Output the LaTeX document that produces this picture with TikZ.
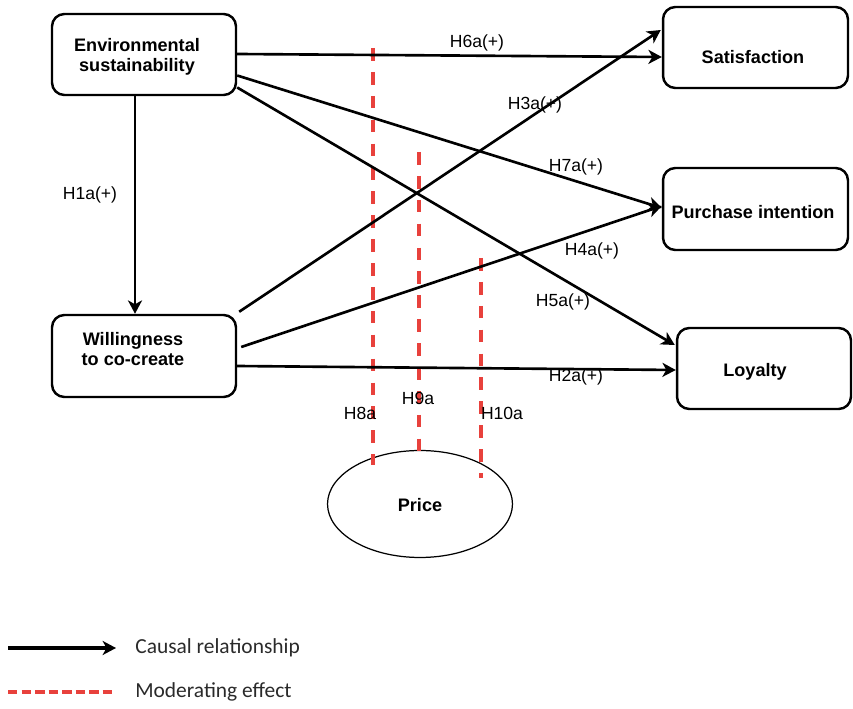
\documentclass[tikz,border=0pt]{standalone}
\usepackage{fontspec}
\setmainfont{Liberation Sans}
\newfontfamily\legendfont{Carlito}
\usetikzlibrary{arrows.meta,calc,shapes.geometric}

\definecolor{modred}{HTML}{E8413C}
\definecolor{legendgray}{HTML}{2A2A2A}

\tikzset{
  box/.style={draw, rounded corners=7pt, line width=1.4pt, inner sep=0pt},
  boxtext/.style={font=\fontsize{10.3}{11.6}\selectfont\bfseries, align=center, inner sep=0pt},
  tip/.style={-{Stealth[length=7.6pt,width=8pt,inset=2.2pt]}},
  causal/.style={line width=1.5pt, tip},
  hyp/.style={font=\fontsize{10}{12}\selectfont, inner sep=0pt},
  moderate/.style={draw=modred, line width=2.3pt, dash pattern=on 7.2pt off 6.4pt},
  legendtext/.style={font=\legendfont\fontsize{12.2}{14}\selectfont, text=legendgray, anchor=west, inner sep=0pt}
}

\begin{document}
\begin{tikzpicture}[x=0.02cm,y=-0.02cm]
  \useasboundingbox (0,0) rectangle (853,709);

  % construct boxes
  \node[box, minimum width=3.68cm, minimum height=1.62cm] (env) at (144,54.5) {};
  \node[box, minimum width=3.68cm, minimum height=1.64cm] (will) at (144,356) {};
  \node[box, minimum width=3.70cm, minimum height=1.62cm] (sat) at (755.5,47.5) {};
  \node[box, minimum width=3.70cm, minimum height=1.64cm] (pi) at (755.5,209) {};
  \node[box, minimum width=3.48cm, minimum height=1.62cm] (loy) at (764,368.5) {};
  \node[draw, ellipse, line width=0.7pt, minimum width=3.70cm, minimum height=2.14cm, inner sep=0pt] (price) at (420,504) {};

  % box captions
  \node[boxtext] (envtext) at (137,57) {Environmental\\sustainability};
  \node[boxtext] (willtext) at (133,349) {Willingness\\to co-create};
  \node[boxtext] (sattext) at (753,57) {Satisfaction};
  \node[boxtext] (pitext) at (753,212) {Purchase intention};
  \node[boxtext] (loytext) at (755,372) {Loyalty};
  \node[boxtext] (pricetext) at (420,505) {Price};

  % moderating effects of price
  \coordinate (m8top) at (373,48);
  \coordinate (m8bot) at (373,465);
  \coordinate (m9top) at (419,152);
  \coordinate (m9bot) at (419,457);
  \coordinate (m10top) at (481,258);
  \coordinate (m10bot) at (481,478);
  \draw[moderate] (m8top) -- (m8bot);
  \draw[moderate] (m9top) -- (m9bot);
  \draw[moderate] (m10top) -- (m10bot);

  % causal paths
  \draw[causal] ($(env.south)+(-9,0)$) -- ($(will.north)+(-9,0)$);
  \draw[causal] ($(env.east)+(0,-0.5)$) -- ($(sat.west)+(0,9.5)$);
  \draw[causal] ($(env.east)+(0,21)$) -- ($(pi.west)+(0,-1)$);
  \draw[causal] ($(env.east)+(0,33)$) -- ($(loy.west)+(-1,-23.5)$);
  \draw[causal] ($(will.north east)+(2,-2)$) -- ($(sat.west)+(-1,-17.5)$);
  \draw[causal] ($(will.east)+(4,-9)$) -- ($(pi.west)+(0,-3)$);
  \draw[causal] ($(will.east)+(0,10)$) -- ($(loy.west)+(0,1.5)$);

  % hypothesis labels
  \node[hyp] (h1) at (90,195) {H1a(+)};
  \node[hyp] (h6) at (477,43) {H6a(+)};
  \node[hyp] (h3) at (535,105) {H3a(+)};
  \node[hyp] (h7) at (576,167) {H7a(+)};
  \node[hyp] (h4) at (592,251) {H4a(+)};
  \node[hyp] (h5) at (563,302) {H5a(+)};
  \node[hyp] (h2) at (576,377) {H2a(+)};
  \node[hyp] (h8) at (360,413) {H8a};
  \node[hyp] (h9) at (418,398) {H9a};
  \node[hyp] (h10) at (502,413) {H10a};

  % legend
  \coordinate (lgA0) at (8,648);
  \coordinate (lgA1) at (116,648);
  \coordinate (lgB0) at (8,692);
  \coordinate (lgB1) at (113,692);
  \draw[line width=1.8pt, tip] (lgA0) -- (lgA1);
  \draw[draw=modred, line width=2pt, dash pattern=on 5.4pt off 2.3pt] (lgB0) -- (lgB1);
  \node[legendtext] (lgtextA) at (135,648) {Causal relationship};
  \node[legendtext] (lgtextB) at (135,692) {Moderating effect};
\end{tikzpicture}
\end{document}
